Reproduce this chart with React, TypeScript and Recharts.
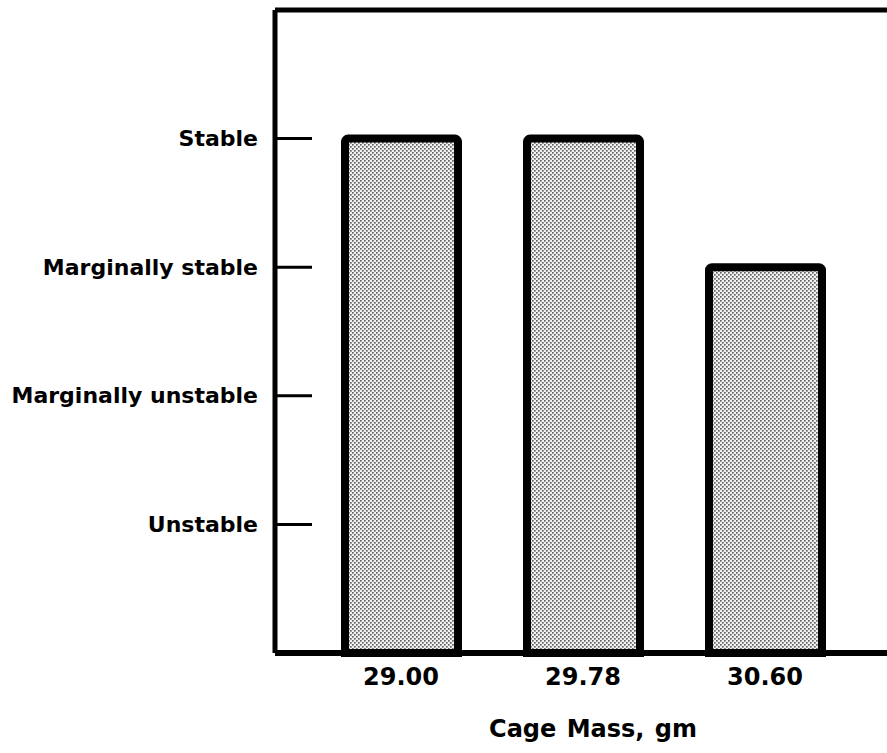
import React from 'react';
import { BarChart, Bar, XAxis, YAxis, ReferenceLine, Label } from 'recharts';

// Cage mass categories and stability rating (1 = Unstable ... 4 = Stable)
const cageMasses = ['29.00', '29.78', '30.60'];
const stabilityLevels = [4, 4, 3];
const stabilityLabels = ['Unstable', 'Marginally unstable', 'Marginally stable', 'Stable'];
const yTicks = [1, 2, 3, 4];

const data = cageMasses.map((mass, i) => ({ mass, level: stabilityLevels[i] }));

const FONT = '"DejaVu Sans", sans-serif';

const StabilityTick = ({ x, y, payload }: any) => (
  <g>
    <line x1={x} y1={y} x2={x + 37} y2={y} stroke="#000" strokeWidth={3} />
    <text
      x={x - 17}
      y={y}
      textAnchor="end"
      dominantBaseline="central"
      fontFamily={FONT}
      fontWeight="bold"
      fontSize={22}
      fill="#000"
    >
      {stabilityLabels[payload.value - 1]}
    </text>
  </g>
);

export default function App() {
  return (
    <div style={{ position: 'absolute', left: 0, top: 0, width: 887, height: 753, background: '#fff' }}>
      <BarChart
        width={887}
        height={753}
        data={data}
        margin={{ top: 10, right: 0, left: 0, bottom: 40 }}
        barSize={113}
      >
        <defs>
          <pattern id="halftone" width="4" height="4" patternUnits="userSpaceOnUse">
            <rect width="4" height="4" fill="#f2f2f2" />
            <rect x="0" y="0" width="1.7" height="1.7" fill="#666" />
            <rect x="2" y="2" width="1.7" height="1.7" fill="#666" />
          </pattern>
        </defs>
        <XAxis
          dataKey="mass"
          height={60}
          axisLine={{ stroke: '#000', strokeWidth: 6 }}
          tickLine={false}
          padding={{ left: 35, right: 31 }}
          tickMargin={9}
          tick={{ fill: '#000', fontFamily: FONT, fontWeight: 'bold', fontSize: 24 }}
        >
          <Label
            value="Cage Mass, gm"
            position="insideBottom"
            offset={-24}
            dx={12}
            style={{ fill: '#000', fontFamily: FONT, fontWeight: 'bold', fontSize: 24, wordSpacing: 2 }}
          />
        </XAxis>
        <YAxis
          type="number"
          domain={[0, 5]}
          ticks={yTicks}
          width={275}
          axisLine={{ stroke: '#000', strokeWidth: 5 }}
          tickLine={false}
          tickSize={0}
          tickMargin={0}
          tick={<StabilityTick />}
        />
        <ReferenceLine y={5} stroke="#000" strokeWidth={5} />
        <Bar
          dataKey="level"
          fill="url(#halftone)"
          stroke="#000"
          strokeWidth={8}
          radius={[3, 3, 0, 0]}
          isAnimationActive={false}
        />
      </BarChart>
    </div>
  );
}
